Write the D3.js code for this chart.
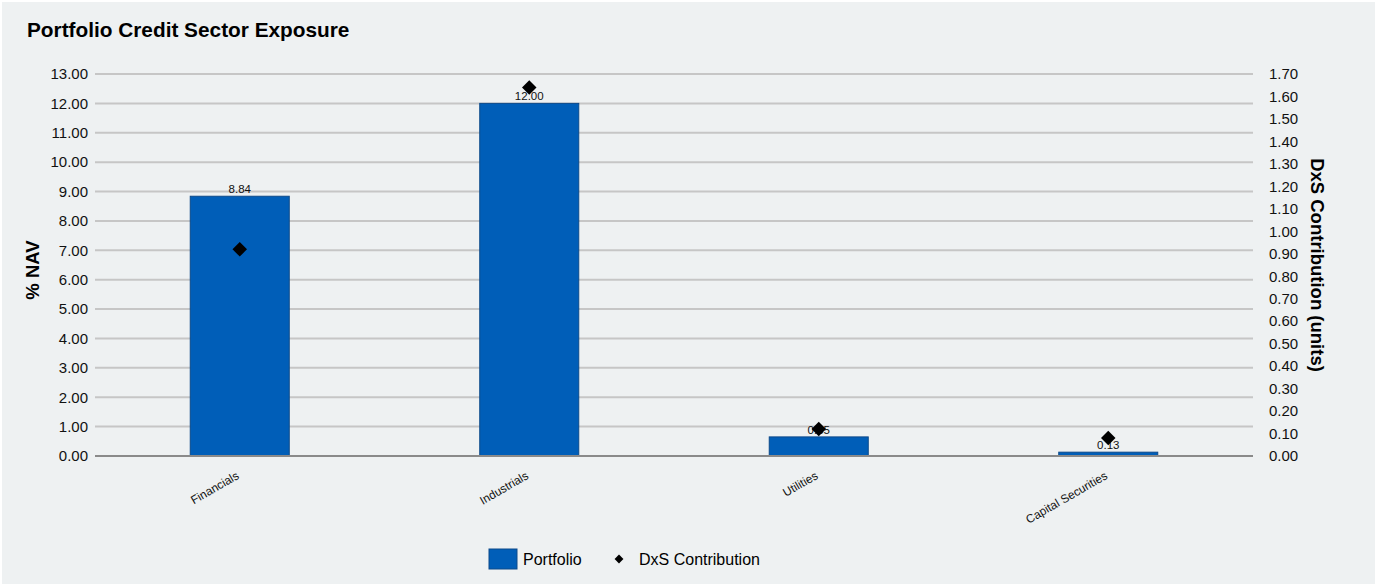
<!DOCTYPE html>
<html>
<head>
<meta charset="utf-8">
<script src="https://cdn.jsdelivr.net/npm/d3@7/dist/d3.min.js"></script>
<style>
  html, body { margin: 0; padding: 0; background: #ffffff; }
  svg { display: block; font-family: "Liberation Sans", Arial, sans-serif; }
</style>
</head>
<body>
<svg id="chart" width="1377" height="586"></svg>
<script>
const categories = ["Financials", "Industrials", "Utilities", "Capital Securities"];
const portfolioValues = [8.84, 12.00, 0.65, 0.13];
const dxsValues = [0.92, 1.64, 0.12, 0.08];
const leftTicks = [0,1,2,3,4,5,6,7,8,9,10,11,12,13];
const rightTicks = [0,0.1,0.2,0.3,0.4,0.5,0.6,0.7,0.8,0.9,1.0,1.1,1.2,1.3,1.4,1.5,1.6,1.7];
const seriesNames = ["Portfolio", "DxS Contribution"];
const titleText = "Portfolio Credit Sector Exposure";
const leftTitle = "% NAV";
const rightTitle = "DxS Contribution (units)";

const W = 1377, H = 586;
const m = { left: 95, right: 1253, top: 74, bottom: 456 };
const svg = d3.select("#chart");

svg.append("rect").attr("x", 2).attr("y", 2).attr("width", W - 4).attr("height", H - 4)
  .attr("fill", "#eef1f2");

svg.append("text").attr("x", 27).attr("y", 37).text(titleText)
  .attr("font-size", 20.8).attr("font-weight", "bold").attr("fill", "#000");

const x = d3.scaleBand().domain(categories).range([m.left, m.right]).paddingInner(0.658).paddingOuter(0.329);
const yL = d3.scaleLinear().domain([0, 13]).range([m.bottom, m.top]);
const yR = d3.scaleLinear().domain([0, 1.7]).range([m.bottom, m.top]);

// gridlines
svg.append("g").selectAll("line").data(leftTicks.filter(d => d > 0)).join("line")
  .attr("x1", m.left).attr("x2", m.right)
  .attr("y1", d => yL(d)).attr("y2", d => yL(d))
  .attr("stroke", "#c6c6c6").attr("stroke-width", 2);

// left axis
const leftAxis = svg.append("g").attr("transform", `translate(${m.left},0)`)
  .call(d3.axisLeft(yL).tickValues(leftTicks).tickFormat(d3.format(".2f")).tickSize(0).tickPadding(7));
leftAxis.select(".domain").remove();
leftAxis.selectAll("text").attr("font-size", 15).attr("fill", "#111").attr("font-family", "Liberation Sans, Arial, sans-serif");

// right axis
const rightAxis = svg.append("g").attr("transform", `translate(${m.right},0)`)
  .call(d3.axisRight(yR).tickValues(rightTicks).tickFormat(d3.format(".2f")).tickSize(0).tickPadding(16));
rightAxis.select(".domain").remove();
rightAxis.selectAll("text").attr("font-size", 15).attr("fill", "#111").attr("font-family", "Liberation Sans, Arial, sans-serif");

// bars
svg.append("g").selectAll("rect").data(categories).join("rect")
  .attr("x", d => x(d)).attr("width", x.bandwidth())
  .attr("y", (d, i) => yL(portfolioValues[i]))
  .attr("height", (d, i) => yL(0) - yL(portfolioValues[i]))
  .attr("fill", "#005eb8").attr("stroke", "#0d4a8a").attr("stroke-width", 1);

// baseline
svg.append("line").attr("x1", m.left).attr("x2", m.right)
  .attr("y1", yL(0)).attr("y2", yL(0)).attr("stroke", "#8a8a8a").attr("stroke-width", 2);

// bar labels
svg.append("g").selectAll("text").data(categories).join("text")
  .attr("x", d => x(d) + x.bandwidth() / 2)
  .attr("y", (d, i) => yL(portfolioValues[i]) - 3)
  .attr("text-anchor", "middle").attr("font-size", 11.5).attr("fill", "#111")
  .text((d, i) => portfolioValues[i].toFixed(2));

// diamonds
const diamond = d3.symbol().type(d3.symbolDiamond2).size(135);
svg.append("g").selectAll("path").data(categories).join("path")
  .attr("transform", (d, i) => `translate(${x(d) + x.bandwidth() / 2},${yR(dxsValues[i])})`)
  .attr("d", diamond).attr("fill", "#000");

// category labels
svg.append("g").selectAll("text").data(categories).join("text")
  .attr("transform", d => `translate(${x(d) + x.bandwidth() / 2},${478}) rotate(-30)`)
  .attr("text-anchor", "end").attr("font-size", 11.8).attr("fill", "#111")
  .text(d => d);

// axis titles
svg.append("text").attr("transform", `translate(39,${(m.top + m.bottom) / 2 + 5}) rotate(-90)`)
  .attr("text-anchor", "middle").attr("font-size", 18.5).attr("font-weight", "bold").text(leftTitle);
svg.append("text").attr("transform", `translate(1311,${265}) rotate(90)`)
  .attr("text-anchor", "middle").attr("font-size", 18.5).attr("font-weight", "bold").text(rightTitle);

// legend
const lg = svg.append("g");
lg.append("rect").attr("x", 489).attr("y", 549).attr("width", 28).attr("height", 20)
  .attr("fill", "#005eb8").attr("stroke", "#0d4a8a");
lg.append("text").attr("x", 523).attr("y", 565).attr("font-size", 16).text(seriesNames[0]);
lg.append("path").attr("transform", "translate(619,559)").attr("d", d3.symbol().type(d3.symbolDiamond2).size(50)).attr("fill", "#000");
lg.append("text").attr("x", 639).attr("y", 565).attr("font-size", 16).text(seriesNames[1]);
</script>
</body>
</html>
